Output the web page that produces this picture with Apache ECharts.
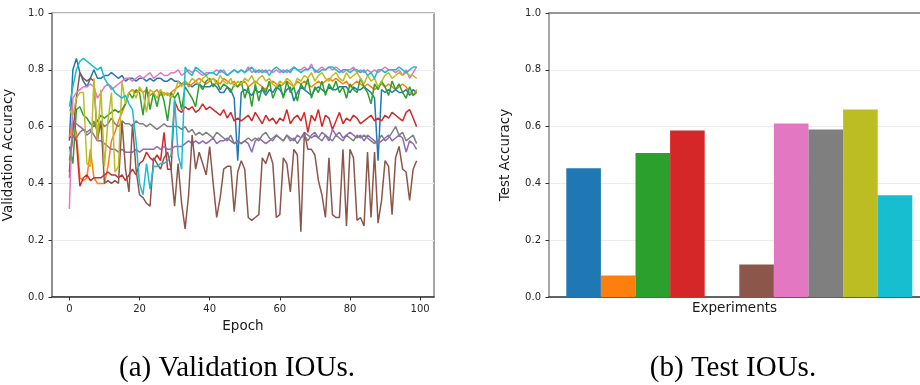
<!DOCTYPE html>
<html>
<head>
<meta charset="utf-8">
<script src="https://cdn.jsdelivr.net/npm/echarts@6/dist/echarts.min.js"></script>
<style>
  html, body { margin: 0; padding: 0; background: #fff; }
  #chart { width: 920px; height: 385px; }
</style>
</head>
<body>
<div id="chart"></div>
<script>
// Validation accuracy per epoch for the ten experiments
const valRun1 = [
  0.55,0.80,0.84,0.79,0.76,0.74,0.77,0.80,0.77,0.77,
  0.78,0.78,0.79,0.78,0.77,0.78,0.76,0.77,0.77,0.76,
  0.77,0.77,0.76,0.77,0.76,0.77,0.77,0.76,0.76,0.77,
  0.76,0.76,0.75,0.75,0.75,0.74,0.75,0.75,0.74,0.74,
  0.74,0.75,0.74,0.72,0.72,0.74,0.73,0.70,0.48,0.72,
  0.73,0.72,0.71,0.73,0.72,0.73,0.71,0.73,0.72,0.74,
  0.73,0.71,0.73,0.74,0.69,0.72,0.74,0.73,0.72,0.71,
  0.73,0.74,0.73,0.72,0.74,0.73,0.73,0.74,0.74,0.74,
  0.72,0.74,0.73,0.73,0.74,0.73,0.72,0.70,0.48,0.73,
  0.72,0.73,0.72,0.73,0.72,0.72,0.73,0.71,0.73,0.72
];
const valRun2 = [
  0.56,0.62,0.58,0.42,0.41,0.42,0.52,0.42,0.40,0.40,
  0.40,0.46,0.55,0.58,0.62,0.65,0.68,0.72,0.73,0.72,
  0.73,0.72,0.73,0.71,0.72,0.73,0.71,0.72,0.71,0.72,
  0.73,0.74,0.75,0.76,0.74,0.75,0.76,0.77,0.76,0.75,
  0.76,0.77,0.76,0.75,0.77,0.76,0.75,0.76,0.74,0.75,
  0.76,0.74,0.75,0.76,0.75,0.74,0.73,0.75,0.76,0.75,
  0.74,0.75,0.76,0.75,0.74,0.76,0.75,0.76,0.75,0.74,
  0.75,0.76,0.75,0.76,0.77,0.76,0.77,0.76,0.75,0.76,
  0.74,0.75,0.76,0.75,0.74,0.75,0.74,0.73,0.74,0.75,
  0.74,0.75,0.74,0.73,0.74,0.75,0.74,0.72,0.71,0.73
];
const valRun3 = [
  0.53,0.47,0.66,0.67,0.64,0.63,0.61,0.60,0.62,0.64,
  0.63,0.64,0.65,0.66,0.65,0.66,0.68,0.72,0.70,0.73,
  0.72,0.64,0.74,0.66,0.72,0.67,0.73,0.69,0.62,0.72,
  0.70,0.72,0.66,0.74,0.72,0.70,0.67,0.75,0.73,0.76,
  0.77,0.74,0.76,0.73,0.75,0.74,0.72,0.75,0.74,0.76,
  0.70,0.74,0.67,0.75,0.69,0.74,0.72,0.76,0.70,0.73,
  0.75,0.70,0.76,0.72,0.74,0.69,0.75,0.73,0.77,0.70,
  0.74,0.72,0.76,0.71,0.75,0.73,0.76,0.72,0.74,0.70,
  0.75,0.73,0.72,0.77,0.74,0.72,0.68,0.75,0.73,0.76,
  0.74,0.71,0.76,0.73,0.75,0.72,0.70,0.74,0.71,0.72
];
const valRun4 = [
  0.56,0.57,0.55,0.39,0.42,0.43,0.41,0.42,0.42,0.42,
  0.43,0.44,0.43,0.43,0.42,0.43,0.41,0.43,0.45,0.43,
  0.47,0.48,0.51,0.49,0.48,0.50,0.48,0.58,0.45,0.45,
  0.69,0.66,0.65,0.67,0.66,0.67,0.65,0.66,0.68,0.66,
  0.67,0.66,0.65,0.64,0.66,0.63,0.65,0.62,0.63,0.62,
  0.63,0.64,0.62,0.65,0.63,0.61,0.64,0.62,0.63,0.61,
  0.63,0.62,0.66,0.61,0.63,0.64,0.62,0.65,0.58,0.64,
  0.62,0.66,0.60,0.64,0.63,0.59,0.62,0.65,0.61,0.63,
  0.62,0.64,0.63,0.61,0.62,0.63,0.64,0.62,0.63,0.62,
  0.64,0.63,0.65,0.64,0.63,0.62,0.65,0.66,0.63,0.60
];
const valRun5 = [
  0.42,0.61,0.61,0.60,0.59,0.58,0.59,0.57,0.55,0.55,
  0.54,0.53,0.52,0.52,0.51,0.52,0.51,0.51,0.51,0.52,
  0.51,0.52,0.52,0.52,0.52,0.53,0.52,0.53,0.52,0.52,
  0.53,0.53,0.53,0.54,0.55,0.54,0.55,0.54,0.55,0.54,
  0.55,0.56,0.54,0.55,0.55,0.56,0.55,0.54,0.55,0.54,
  0.55,0.54,0.51,0.55,0.56,0.55,0.54,0.55,0.56,0.57,
  0.56,0.55,0.57,0.56,0.55,0.57,0.56,0.58,0.57,0.56,
  0.57,0.56,0.58,0.57,0.55,0.59,0.57,0.58,0.56,0.57,
  0.58,0.57,0.56,0.57,0.55,0.57,0.56,0.55,0.54,0.55,
  0.56,0.57,0.55,0.56,0.57,0.56,0.51,0.55,0.54,0.52
];
const valRun6 = [
  0.44,0.58,0.70,0.79,0.77,0.76,0.77,0.76,0.55,0.62,
  0.40,0.41,0.40,0.41,0.40,0.62,0.45,0.37,0.61,0.45,
  0.36,0.35,0.33,0.32,0.49,0.47,0.45,0.49,0.51,0.45,
  0.32,0.47,0.33,0.24,0.36,0.57,0.45,0.51,0.47,0.43,
  0.53,0.40,0.28,0.35,0.45,0.46,0.46,0.30,0.44,0.48,
  0.45,0.28,0.27,0.28,0.29,0.49,0.47,0.51,0.47,0.28,
  0.29,0.49,0.47,0.37,0.52,0.50,0.23,0.58,0.52,0.52,
  0.50,0.41,0.36,0.28,0.49,0.29,0.28,0.28,0.52,0.25,
  0.52,0.49,0.27,0.28,0.25,0.51,0.28,0.51,0.26,0.34,
  0.48,0.46,0.29,0.49,0.53,0.45,0.44,0.34,0.45,0.48
];
const valRun7 = [
  0.31,0.70,0.72,0.73,0.74,0.74,0.75,0.74,0.70,0.72,
  0.74,0.75,0.73,0.74,0.75,0.76,0.77,0.77,0.76,0.77,
  0.78,0.77,0.78,0.79,0.77,0.78,0.79,0.78,0.78,0.79,
  0.79,0.80,0.78,0.79,0.80,0.79,0.80,0.79,0.78,0.79,
  0.79,0.79,0.80,0.79,0.80,0.78,0.79,0.80,0.79,0.80,
  0.79,0.81,0.79,0.80,0.79,0.80,0.79,0.80,0.79,0.80,
  0.79,0.80,0.79,0.80,0.81,0.80,0.80,0.81,0.80,0.82,
  0.79,0.80,0.81,0.80,0.81,0.80,0.81,0.80,0.79,0.80,
  0.80,0.81,0.79,0.80,0.79,0.80,0.79,0.80,0.79,0.80,
  0.81,0.80,0.80,0.79,0.80,0.78,0.80,0.77,0.79,0.81
];
const valRun8 = [
  0.48,0.57,0.56,0.58,0.59,0.57,0.58,0.62,0.58,0.62,
  0.60,0.61,0.63,0.61,0.60,0.62,0.61,0.61,0.60,0.62,
  0.61,0.61,0.60,0.61,0.60,0.59,0.60,0.61,0.60,0.60,
  0.60,0.60,0.59,0.60,0.58,0.59,0.57,0.58,0.57,0.58,
  0.57,0.56,0.58,0.57,0.56,0.55,0.57,0.54,0.55,0.54,
  0.55,0.56,0.55,0.56,0.55,0.57,0.58,0.56,0.55,0.57,
  0.56,0.55,0.57,0.55,0.56,0.54,0.56,0.57,0.55,0.57,
  0.58,0.56,0.55,0.57,0.56,0.55,0.57,0.56,0.55,0.57,
  0.56,0.55,0.57,0.56,0.57,0.56,0.55,0.54,0.55,0.57,
  0.55,0.56,0.58,0.60,0.57,0.58,0.55,0.56,0.57,0.54
];
const valRun9 = [
  0.66,0.64,0.70,0.72,0.72,0.47,0.46,0.77,0.55,0.73,
  0.46,0.62,0.72,0.44,0.46,0.76,0.68,0.72,0.73,0.70,
  0.74,0.72,0.65,0.73,0.72,0.70,0.73,0.71,0.72,0.70,
  0.72,0.76,0.74,0.76,0.75,0.77,0.76,0.75,0.77,0.78,
  0.76,0.77,0.75,0.78,0.76,0.75,0.77,0.74,0.76,0.75,
  0.77,0.76,0.78,0.75,0.77,0.78,0.76,0.77,0.75,0.74,
  0.76,0.75,0.77,0.76,0.74,0.77,0.76,0.78,0.77,0.79,
  0.76,0.78,0.79,0.77,0.76,0.78,0.79,0.77,0.76,0.79,
  0.77,0.78,0.79,0.77,0.75,0.78,0.76,0.77,0.74,0.76,
  0.78,0.79,0.77,0.78,0.79,0.78,0.79,0.78,0.78,0.77
];
const valRun10 = [
  0.67,0.74,0.80,0.83,0.84,0.83,0.82,0.81,0.80,0.81,
  0.77,0.75,0.74,0.72,0.71,0.70,0.71,0.68,0.66,0.55,
  0.40,0.36,0.47,0.38,0.46,0.46,0.47,0.47,0.48,0.50,
  0.70,0.50,0.45,0.81,0.79,0.78,0.81,0.80,0.79,0.78,
  0.79,0.79,0.78,0.80,0.79,0.78,0.79,0.80,0.79,0.80,
  0.79,0.80,0.81,0.79,0.80,0.79,0.80,0.78,0.80,0.81,
  0.80,0.79,0.80,0.79,0.81,0.80,0.79,0.80,0.80,0.81,
  0.80,0.79,0.80,0.80,0.81,0.81,0.80,0.79,0.80,0.80,
  0.79,0.80,0.80,0.79,0.80,0.78,0.79,0.77,0.80,0.80,
  0.79,0.80,0.80,0.80,0.81,0.80,0.79,0.80,0.81,0.81
];

// Final test accuracy of each experiment (same order as the runs above)
const testAcc = [0.453, 0.076, 0.507, 0.586, 0.0, 0.114, 0.611, 0.590, 0.660, 0.358];

// Tick positions
const epochTicks = [0, 20, 40, 60, 80, 100];

// Captions under the two panels
const captionA = '(a) Validation IOUs.';
const captionB = '(b) Test IOUs.';

// matplotlib "tab10" colour cycle
const palette = ['#1f77b4', '#ff7f0e', '#2ca02c', '#d62728', '#9467bd',
                 '#8c564b', '#e377c2', '#7f7f7f', '#bcbd22', '#17becf'];

const valRuns = [valRun1, valRun2, valRun3, valRun4, valRun5,
                 valRun6, valRun7, valRun8, valRun9, valRun10];

const uiFont = 'DejaVu Sans';
const tickText = { fontFamily: uiFont, fontSize: 10, color: '#262626' };
const nameText = { fontFamily: uiFont, fontSize: 13.5, color: '#1a1a1a' };

// Bar panel: bars sit at x = 0..9 with half a bar of padding on the left;
// the panel runs off the right edge of the canvas, so the axis stops where the canvas does.
const barGridLeft = 549;
const barGridWidth = 920 - barGridLeft;
const barUnitPx = 34.6;
const barAxisMin = -1;
const barAxisMax = barAxisMin + barGridWidth / barUnitPx;

const lineSeries = valRuns.map((run, k) => ({
  type: 'line',
  xAxisIndex: 0,
  yAxisIndex: 0,
  data: run.map((v, i) => [i, v]),
  showSymbol: false,
  symbol: 'none',
  lineStyle: { color: palette[k], width: 1.5 },
  itemStyle: { color: palette[k] },
  silent: true
}));

const barSeries = {
  type: 'bar',
  xAxisIndex: 1,
  yAxisIndex: 1,
  barWidth: barUnitPx,
  data: testAcc.map((v, i) => ({ value: [i, v], itemStyle: { color: palette[i] } })),
  silent: true
};

const yAxisCommon = {
  type: 'value',
  min: 0,
  max: 1,
  interval: 0.2,
  nameLocation: 'middle',
  nameGap: 37,
  nameTextStyle: nameText,
  axisLine: { show: true, onZero: false, lineStyle: { color: '#8a8a8a', width: 1.5 } },
  axisTick: { show: true, length: 3.5, lineStyle: { color: '#333', width: 1 } },
  axisLabel: Object.assign({ margin: 8, formatter: v => v.toFixed(1) }, tickText),
  splitLine: { show: true, lineStyle: { color: '#ebebeb', width: 1 } }
};

const chart = echarts.init(document.getElementById('chart'), null, { renderer: 'canvas' });

chart.setOption({
  animation: false,
  backgroundColor: '#fff',
  grid: [
    { left: 52, top: 13, width: 382, height: 284, show: true, borderColor: '#6a6a6a', borderWidth: 1.2, containLabel: false },
    { left: barGridLeft, top: 13, width: barGridWidth, height: 284, show: false, containLabel: false }
  ],
  xAxis: [
    {
      type: 'value',
      gridIndex: 0,
      min: -4.95,
      max: 103.95,
      name: 'Epoch',
      nameLocation: 'middle',
      nameGap: 22,
      nameTextStyle: nameText,
      axisLine: { show: true, onZero: false, lineStyle: { color: '#333', width: 1.5 } },
      axisTick: { show: true, customValues: epochTicks, length: 3.5, lineStyle: { color: '#333' } },
      axisLabel: Object.assign({ customValues: epochTicks, margin: 7.5 }, tickText),
      splitLine: { show: false }
    },
    {
      type: 'value',
      gridIndex: 1,
      min: barAxisMin,
      max: barAxisMax,
      name: 'Experiments',
      nameLocation: 'middle',
      nameGap: 4,
      nameTextStyle: nameText,
      axisLine: { show: true, onZero: false, lineStyle: { color: '#333', width: 1.5 } },
      axisTick: { show: false },
      axisLabel: { show: false },
      splitLine: { show: false }
    },
    {
      // top spine of the bar panel
      type: 'value',
      gridIndex: 1,
      position: 'top',
      min: barAxisMin,
      max: barAxisMax,
      axisLine: { show: true, onZero: false, lineStyle: { color: '#7a7a7a', width: 1.5 } },
      axisTick: { show: false },
      axisLabel: { show: false },
      splitLine: { show: false }
    }
  ],
  yAxis: [
    Object.assign({ gridIndex: 0, name: 'Validation Accuracy' }, yAxisCommon),
    Object.assign({ gridIndex: 1, name: 'Test Accuracy' }, yAxisCommon)
  ],
  series: lineSeries.concat([barSeries]),
  graphic: [
    {
      type: 'text', x: 237, y: 368,
      style: { text: captionA, fontFamily: 'Liberation Serif', fontSize: 29, fill: '#000',
               textAlign: 'center', textVerticalAlign: 'middle' }
    },
    {
      type: 'text', x: 733, y: 368,
      style: { text: captionB, fontFamily: 'Liberation Serif', fontSize: 29, fill: '#000',
               textAlign: 'center', textVerticalAlign: 'middle' }
    }
  ]
});
</script>
</body>
</html>
